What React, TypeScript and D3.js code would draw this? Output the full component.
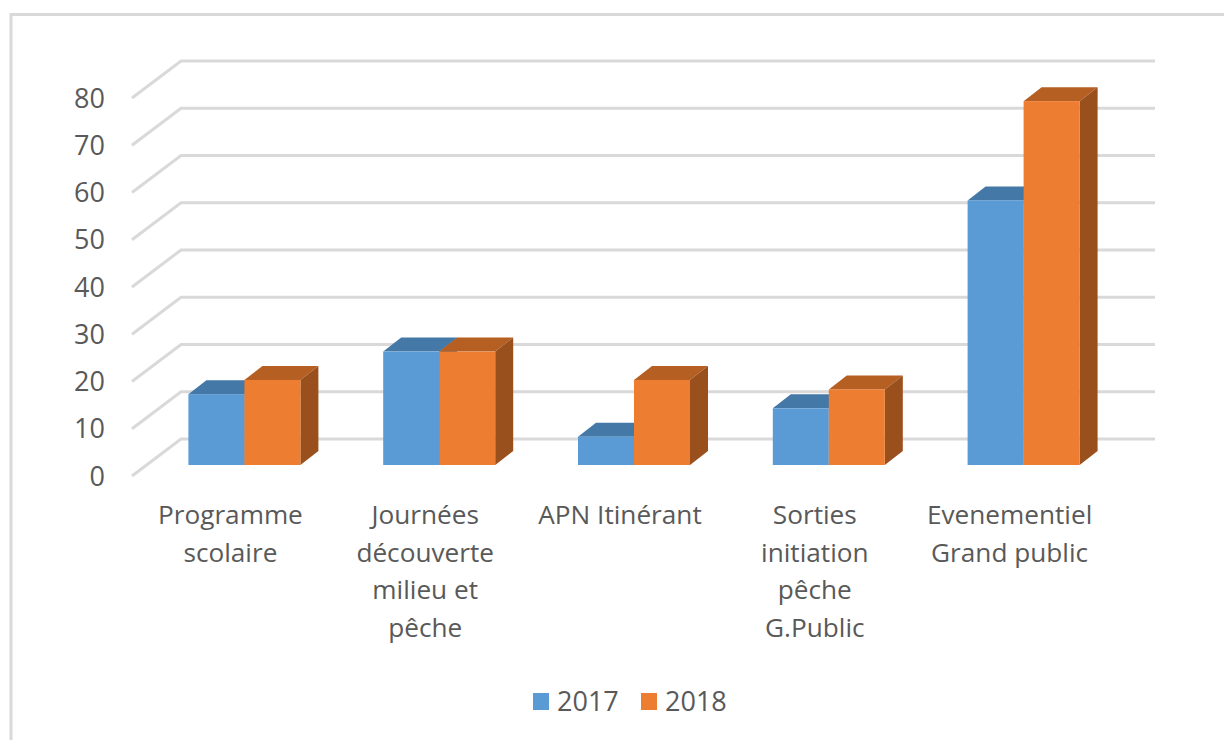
import React from "react";
import * as d3 from "d3";

const categories = [
  ["Programme", "scolaire"],
  ["Journées", "découverte", "milieu et", "pêche"],
  ["APN Itinérant"],
  ["Sorties", "initiation", "pêche", "G.Public"],
  ["Evenementiel", "Grand public"],
];
const values2017 = [15, 24, 6, 12, 56];
const values2018 = [18, 24, 18, 16, 77];
const ticks = [0, 10, 20, 30, 40, 50, 60, 70, 80];
const seriesNames = ["2017", "2018"];

const FONT = "'Open Sans', 'Noto Sans', sans-serif";
const TEXT = "#595959";
const GRID = "#d9d9d9";
const COLORS = [
  { front: "#5b9bd5", top: "#4478a6", side: "#3b6a94" },
  { front: "#ed7d31", top: "#b65f23", side: "#9a501d" },
];

const DX = 18;
const DY = -14;

export default function App() {
  const yFront = d3.scaleLinear().domain([0, 80]).range([476, 98]);
  const yBack = d3.scaleLinear().domain([0, 80]).range([439, 61]);
  const yBar = d3.scaleLinear().domain([0, 80]).range([465, 87]);
  const x0 = d3
    .scaleBand<number>()
    .domain(d3.range(categories.length))
    .range([147, 1121])
    .paddingInner(0)
    .paddingOuter(0);
  const barW = 56;
  const groupX = (i: number) => (x0(i) as number) + x0.bandwidth() / 2 - barW;

  const box = (x: number, v: number, c: (typeof COLORS)[number], key: string) => {
    const top = yBar(v);
    const bot = yBar(0);
    const xr = x + barW;
    return (
      <g key={key}>
        <path d={`M${x},${top}L${x + DX},${top + DY}L${xr + DX},${top + DY}L${xr},${top}Z`} fill={c.top} />
        <path d={`M${xr},${top}L${xr + DX},${top + DY}L${xr + DX},${bot + DY}L${xr},${bot}Z`} fill={c.side} />
        <rect x={x} y={top} width={barW} height={bot - top} fill={c.front} />
      </g>
    );
  };

  return (
    <svg
      width={1224}
      height={740}
      style={{ position: "absolute", left: 0, top: 0, background: "#fff" }}
      fontFamily={FONT}
    >
      <path d="M11,740V14.5H1224" fill="none" stroke={GRID} strokeWidth={3} />
      {ticks.map((t) => (
        <g key={t}>
          <path
            d={`M132,${yFront(t)}L181,${yBack(t)}H1155`}
            fill="none"
            stroke={GRID}
            strokeWidth={3}
          />
          <text x={105} y={yFront(t)} dy="0.36em" textAnchor="end" fontSize={27} fill={TEXT}>
            {t}
          </text>
        </g>
      ))}
      {categories.map((_, i) => (
        <g key={i}>
          {box(groupX(i), values2017[i], COLORS[0], `a${i}`)}
          {box(groupX(i) + barW, values2018[i], COLORS[1], `b${i}`)}
        </g>
      ))}
      {categories.map((lines, i) => (
        <text key={i} textAnchor="middle" fontSize={26.2} fill={TEXT}>
          {lines.map((l, j) => (
            <tspan key={j} x={groupX(i) + barW - 14} y={524 + j * 37.7}>
              {l}
            </tspan>
          ))}
        </text>
      ))}
      {seriesNames.map((s, i) => (
        <g key={s}>
          <rect x={533 + i * 108} y={693} width={16} height={17} fill={COLORS[i].front} />
          <text x={557 + i * 108} y={711} fontSize={27} fill={TEXT}>
            {s}
          </text>
        </g>
      ))}
    </svg>
  );
}
